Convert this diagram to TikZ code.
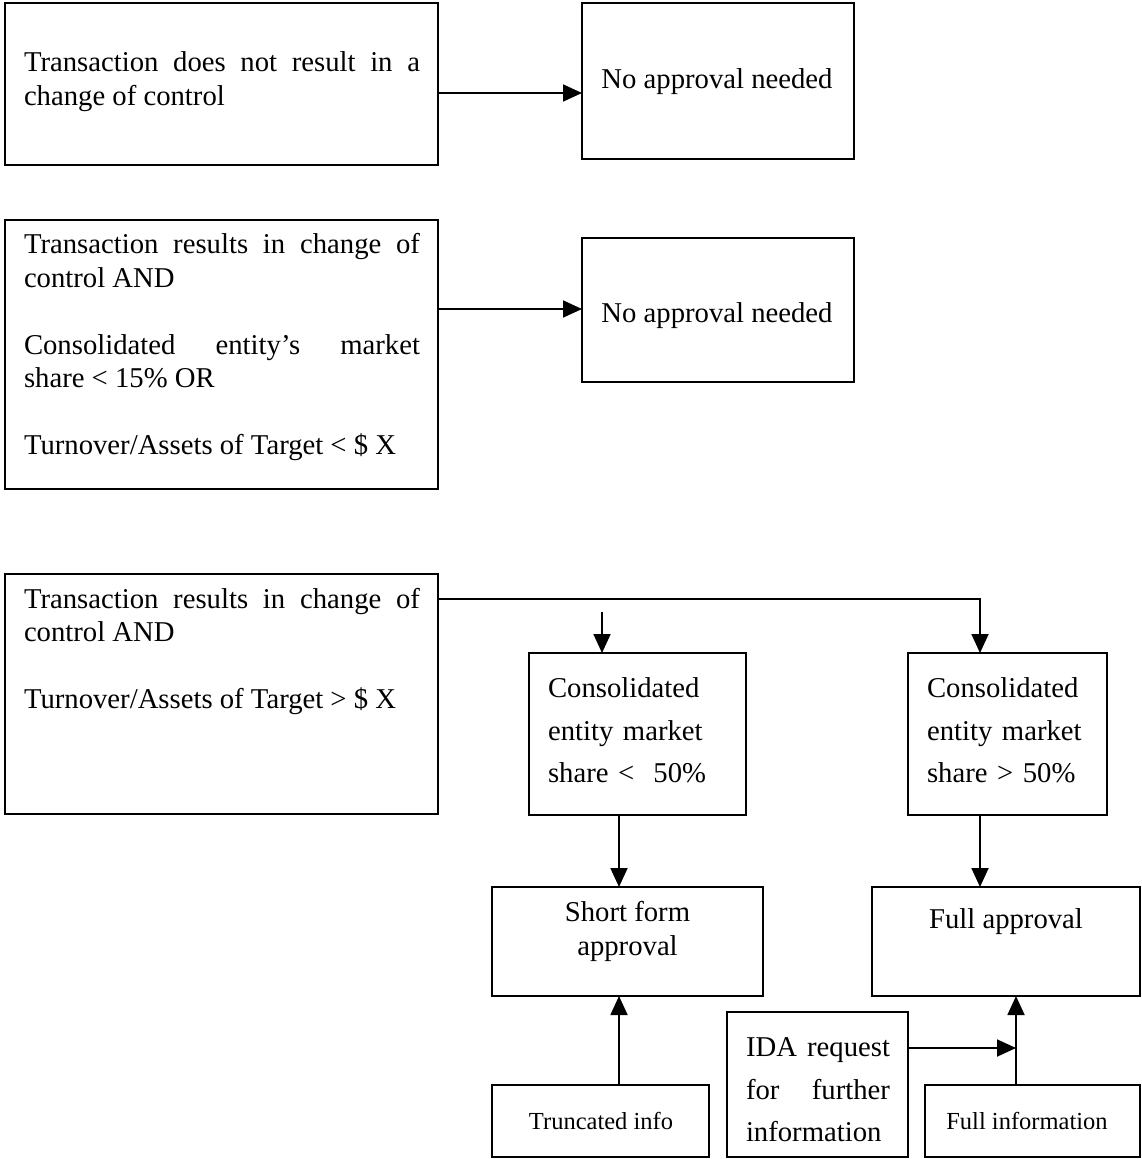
\documentclass[tikz,border=0pt]{standalone}
\usepackage{fontspec}
\setmainfont{Liberation Serif}
\usetikzlibrary{arrows.meta}
\hyphenpenalty=10000
\exhyphenpenalty=10000
\begin{document}
\begin{tikzpicture}[x=1pt,y=-1pt,
  box/.style={draw, line width=1.8pt, inner sep=0pt, outer sep=0pt},
  txt/.style={inner sep=0pt, outer sep=0pt, font=\fontsize{28.7pt}{33.5pt}\selectfont},
  wide/.style={txt, font=\fontsize{28.7pt}{42.5pt}\selectfont},
  small/.style={inner sep=0pt, outer sep=0pt, font=\fontsize{24.5pt}{29pt}\selectfont},
  arr/.style={line width=1.8pt, -{Triangle[length=19pt,width=17pt]}},
  ln/.style={line width=1.8pt}]
\useasboundingbox (0,0) rectangle (1142,1159);

% boxes
\node[box, minimum width=433pt, minimum height=162pt] (a1) at (221.5,84) {};
\node[box, minimum width=272pt, minimum height=156pt] (b1) at (718,81) {};
\node[box, minimum width=433pt, minimum height=269pt] (a2) at (221.5,354.5) {};
\node[box, minimum width=272pt, minimum height=144pt] (b2) at (718,310) {};
\node[box, minimum width=433pt, minimum height=240pt] (a3) at (221.5,694) {};
\node[box, minimum width=217pt, minimum height=162pt] (c1) at (637.5,734) {};
\node[box, minimum width=199pt, minimum height=162pt] (c2) at (1007.5,734) {};
\node[box, minimum width=271pt, minimum height=109pt] (d1) at (627.5,941.5) {};
\node[box, minimum width=268pt, minimum height=109pt] (d2) at (1006,941.5) {};
\node[box, minimum width=217pt, minimum height=72pt] (e1) at (600.5,1121) {};
\node[box, minimum width=181pt, minimum height=145pt] (e2) at (817.5,1084.5) {};
\node[box, minimum width=215pt, minimum height=72pt] (e3) at (1032.5,1121) {};

% texts
\node[txt, anchor=west, text width=396pt, align=justify] (a1t) at (24,81.5)
  {Transaction does not result in a\linebreak change of control};
\node[txt] (b1t) at (717,82) {No approval needed};
\node[txt, anchor=west, text width=396pt, align=justify] (a2t) at (24,347)
  {Transaction results in change of\linebreak control AND\par\vspace{33.5pt}Consolidated entity’s market\linebreak share < 15\% OR\par\vspace{33.5pt}Turnover/Assets of Target < \$ X};
\node[txt] (b2t) at (717,316) {No approval needed};
\node[txt, anchor=west, text width=396pt, align=justify] (a3t) at (24,651.5)
  {Transaction results in change of\linebreak control AND\par\vspace{33.5pt}Turnover/Assets of Target > \$ X};
\node[wide, anchor=west, text width=190pt, align=left] (c1t) at (548,730.5)
  {Consolidated\\entity market\\share <~ 50\%};
\node[wide, anchor=west, text width=175pt, align=left] (c2t) at (927,730.5)
  {Consolidated\\entity market\\share > 50\%};
\node[txt, align=center] (d1t) at (627.5,931.5) {Short form\\approval};
\node[txt] (d2t) at (1006,922) {Full approval};
\node[small] (e1t) at (601,1121) {Truncated info};
\node[wide, anchor=west, text width=144pt, align=justify] (e2t) at (746,1090)
  {IDA request\linebreak for further\linebreak information};
\node[small] (e3t) at (1027,1121) {Full information};

% connectors
\draw[arr] (a1.east) ++(0,9) coordinate (s1) -- (s1 -| b1.west);
\draw[arr] (a2.east) ++(0,-45.5) coordinate (s2) -- (s2 -| b2.west);
\coordinate (k3) at (980,599);
\draw[arr] (a3.east) ++(0,-95) coordinate (s3) -- (k3) -- (k3 |- c2.north);
\coordinate (f1) at (602,612);
\draw[arr] (f1) -- (f1 |- c1.north);
\coordinate (v1) at (619,0);
\draw[arr] (v1 |- c1.south) -- (v1 |- d1.north);
\draw[arr] (k3 |- c2.south) -- (k3 |- d2.north);
\draw[arr] (v1 |- e1.north) -- (v1 |- d1.south);
\coordinate (v2) at (1016,0);
\draw[arr] (v2 |- e3.north) -- (v2 |- d2.south);
\draw[arr] (e2.east) ++(0,-36.5) coordinate (s9) -- (s9 -| v2);
\end{tikzpicture}
\end{document}
